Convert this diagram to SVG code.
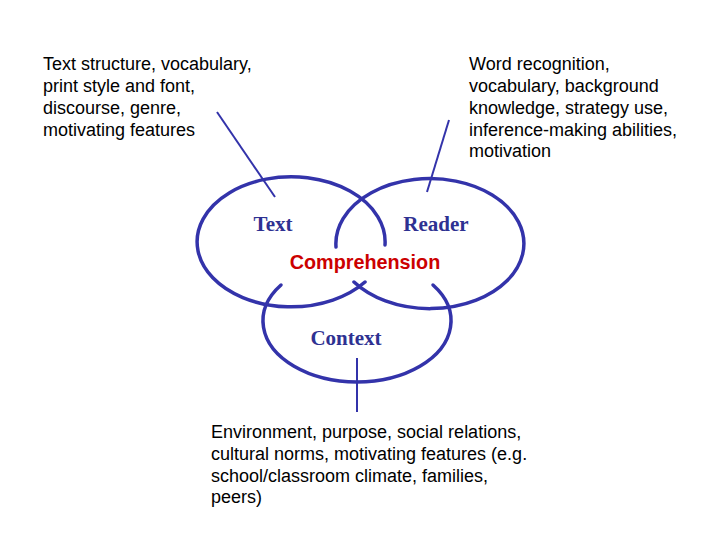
<svg xmlns="http://www.w3.org/2000/svg" width="720" height="540" viewBox="0 0 720 540">
<style>
.t{font-family:"Liberation Sans",Arial,sans-serif;font-size:18px;fill:#000}
.l{font-family:"Liberation Serif","Times New Roman",serif;font-size:21px;font-weight:bold;fill:#2e3192;text-anchor:middle}
.s{fill:none;stroke:#3333aa;stroke-width:3.5;stroke-linecap:round}
.c{fill:none;stroke:#3333aa;stroke-width:2}
</style>
<rect width="720" height="540" fill="#fff"/>
<g id="connectors">
<line class="c" x1="217" y1="112" x2="275" y2="197"/>
<line class="c" x1="449" y1="120" x2="427" y2="192"/>
<line class="c" x1="357" y1="358" x2="357" y2="412"/>
</g>
<g id="text">
<path class="s" d="M385,245 A94,65 0 1 0 365,282"/>
<text class="l" x="273" y="231">Text</text>
</g>
<g id="reader">
<path class="s" d="M336,247 A94,65 0 1 1 354,282"/>
<text class="l" x="436" y="231">Reader</text>
</g>
<g id="context">
<path class="s" d="M281,285 A94,61 0 1 0 433,285"/>
<text class="l" x="346" y="345">Context</text>
</g>
<g id="comprehension">
<text x="365" y="269" text-anchor="middle" style="font-family:'Liberation Sans',Arial,sans-serif;font-size:19.8px;font-weight:bold;fill:#cc0000">Comprehension</text>
</g>
<g id="text-notes">
<text class="t" x="43" y="70">Text structure, vocabulary,</text>
<text class="t" x="43" y="92">print style and font,</text>
<text class="t" x="43" y="114">discourse, genre,</text>
<text class="t" x="43" y="136">motivating features</text>
</g>
<g id="reader-notes">
<text class="t" x="469" y="70">Word recognition,</text>
<text class="t" x="469" y="92">vocabulary, background</text>
<text class="t" x="469" y="114">knowledge, strategy use,</text>
<text class="t" x="469" y="136">inference-making abilities,</text>
<text class="t" x="469" y="157">motivation</text>
</g>
<g id="context-notes">
<text class="t" x="211" y="438">Environment, purpose, social relations,</text>
<text class="t" x="211" y="460">cultural norms, motivating features (e.g.</text>
<text class="t" x="211" y="482">school/classroom climate, families,</text>
<text class="t" x="211" y="503">peers)</text>
</g>
</svg>
